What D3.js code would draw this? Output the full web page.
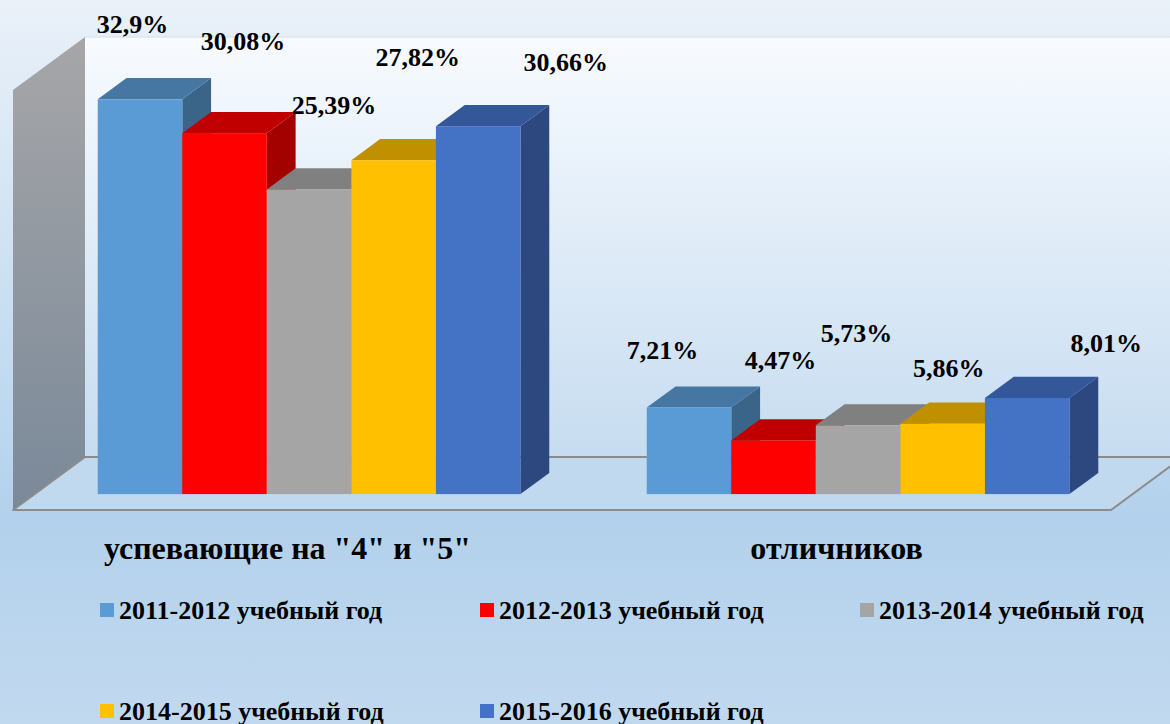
<!DOCTYPE html>
<html>
<head>
<meta charset="utf-8">
<script src="https://cdnjs.cloudflare.com/ajax/libs/d3/7.8.5/d3.min.js"></script>
<style>
	html, body { margin: 0; padding: 0; overflow: hidden; }
	svg { display: block; }
</style>
</head>
<body>
<svg id="chart" width="1170" height="724"></svg>
<script>
var categories = ['успевающие на "4" и "5"', 'отличников'];
var series = ['2011-2012 учебный год', '2012-2013 учебный год', '2013-2014 учебный год', '2014-2015 учебный год', '2015-2016 учебный год'];
var values2011 = [32.9, 7.21];
var values2012 = [30.08, 4.47];
var values2013 = [25.39, 5.73];
var values2014 = [27.82, 5.86];
var values2015 = [30.66, 8.01];
var valueLabels = [['32,9%', '7,21%'], ['30,08%', '4,47%'], ['25,39%', '5,73%'], ['27,82%', '5,86%'], ['30,66%', '8,01%']];
var yMax = 35;

// office-like face colours: front, top, side
var colors = {
	front: ['#5B9BD5', '#FF0000', '#A5A5A5', '#FFC000', '#4472C4'],
	top:   ['#4676A2', '#C00000', '#808080', '#C09000', '#345799'],
	side:  ['#3B6489', '#A30000', '#6C6C6C', '#A37A00', '#2C487F']
};
// hand-placed label nudges (relative to top-front centre of the bar)
var labelNudge = [
	[[-7.5, -75], [-26.5, -57.5]],
	[[18.5, -92], [7, -80.5]],
	[[25, -84], [-1.5, -92]],
	[[24, -103], [6, -56]],
	[[87.5, -64], [79, -55]]
];

var allValues = [values2011, values2012, values2013, values2014, values2015];

var width = 1170, height = 724;
var depthX = 72, depthY = -53;
var barZ0 = 0.3, barZ1 = 0.7;
var serif = '"Liberation Serif", "Times New Roman", "DejaVu Serif", serif';

var svg = d3.select('#chart');
var defs = svg.append('defs');

function addGradient(id, stops){
	var g = defs.append('linearGradient')
		.attr('id', id)
		.attr('x1', 0).attr('y1', 0)
		.attr('x2', 0).attr('y2', 1);
	stops.forEach(function(s){
		g.append('stop').attr('offset', s[0]).attr('stop-color', s[1]);
	});
}
addGradient('bgGrad', [[0, '#EAF1F9'], [0.72, '#B3D1EC'], [1, '#C1D9EF']]);
addGradient('wallGrad', [[0, '#F8FBFF'], [1, '#C6DCF0']]);
addGradient('sideGrad', [[0, '#A6A6A8'], [1, '#7A8999']]);

svg.append('rect')
	.attr('width', width)
	.attr('height', height)
	.attr('fill', 'url(#bgGrad)');

var x0 = d3.scaleBand()
	.domain(categories)
	.range([13, 1111])
	.paddingInner(0.23)
	.paddingOuter(0.115);

var x1 = d3.scaleBand()
	.domain(series)
	.range([0, x0.bandwidth()]);

var y = d3.scaleLinear()
	.domain([0, yMax])
	.range([510, 90]);

function proj(x, yv, z){
	return [x + depthX * z, yv + depthY * z];
}

function poly(points){
	return points.map(function(p){ return p.join(','); }).join(' ');
}

function label(sel, size){
	return sel
		.attr('font-family', serif)
		.attr('font-weight', 'bold')
		.attr('font-size', size)
		.attr('fill', '#000');
}

var left = x0.range()[0], right = x0.range()[1];
var yBase = y(0), yTop = y(yMax);

// back wall
svg.append('polygon')
	.attr('points', poly([proj(left, yTop, 1), proj(right, yTop, 1), proj(right, yBase, 1), proj(left, yBase, 1)]))
	.attr('fill', 'url(#wallGrad)');
svg.append('line')
	.attr('x1', proj(left, yTop, 1)[0]).attr('x2', proj(right, yTop, 1)[0])
	.attr('y1', proj(left, yTop, 1)[1]).attr('y2', proj(right, yTop, 1)[1])
	.attr('stroke', '#DCE6F0')
	.attr('stroke-width', 1.5);

// side wall
svg.append('polygon')
	.attr('points', poly([proj(left, yBase, 0), proj(left, yTop, 0), proj(left, yTop, 1), proj(left, yBase, 1)]))
	.attr('fill', 'url(#sideGrad)');

// floor
svg.append('polygon')
	.attr('points', poly([proj(left, yBase, 0), proj(right, yBase, 0), proj(right, yBase, 1), proj(left, yBase, 1)]))
	.attr('fill', '#C0D9EF')
	.attr('stroke', '#8C8C8C')
	.attr('stroke-width', 2)
	.attr('stroke-linejoin', 'round');

// bars, left to right so later ones cover earlier side faces
var bars = [];
categories.forEach(function(cat, ci){
	series.forEach(function(s, si){
		bars.push({cat: cat, ci: ci, si: si, value: allValues[si][ci]});
	});
});

var barG = svg.append('g');
bars.forEach(function(b){
	var xa = x0(b.cat) + x1(series[b.si]);
	var xb = xa + x1.bandwidth();
	var yt = y(b.value);
	var g = barG.append('g');
	g.append('polygon')
		.attr('points', poly([proj(xb, yBase, barZ0), proj(xb, yt, barZ0), proj(xb, yt, barZ1), proj(xb, yBase, barZ1)]))
		.attr('fill', colors.side[b.si]);
	g.append('polygon')
		.attr('points', poly([proj(xa, yt, barZ0), proj(xb, yt, barZ0), proj(xb, yt, barZ1), proj(xa, yt, barZ1)]))
		.attr('fill', colors.top[b.si]);
	var f0 = proj(xa, yt, barZ0), f1 = proj(xb, yBase, barZ0);
	g.append('rect')
		.attr('x', f0[0])
		.attr('y', f0[1])
		.attr('width', f1[0] - f0[0])
		.attr('height', f1[1] - f0[1])
		.attr('fill', colors.front[b.si]);
});

// value labels
bars.forEach(function(b){
	var xa = x0(b.cat) + x1(series[b.si]);
	var p = proj(xa + x1.bandwidth() / 2, y(b.value), barZ0);
	var n = labelNudge[b.si][b.ci];
	label(svg.append('text'), 26)
		.attr('x', p[0] + n[0])
		.attr('y', p[1] + n[1] + 9)
		.attr('text-anchor', 'middle')
		.text(valueLabels[b.si][b.ci]);
});

// category labels
label(svg.selectAll('.cat-label')
	.data(categories)
	.enter().append('text'), 32)
		.attr('class', 'cat-label')
		.attr('x', function(d){ return x0(d) + x0.bandwidth() / 2; })
		.attr('y', 559)
		.attr('text-anchor', 'middle')
		.text(function(d){ return d; });

// legend
var legendCols = [100, 480, 860];
var legendRows = [619, 720];
var legend = svg.selectAll('.legend')
	.data(series)
	.enter().append('g')
		.attr('class', 'legend')
		.attr('transform', function(d, i){
			return 'translate(' + legendCols[i % 3] + ',' + legendRows[Math.floor(i / 3)] + ')';
		});
legend.append('rect')
	.attr('x', 0)
	.attr('y', -16)
	.attr('width', 14)
	.attr('height', 14)
	.attr('fill', function(d, i){ return colors.front[i]; });
label(legend.append('text'), 26)
	.attr('x', 19)
	.attr('y', 0)
	.text(function(d){ return d; });
</script>
</body>
</html>
